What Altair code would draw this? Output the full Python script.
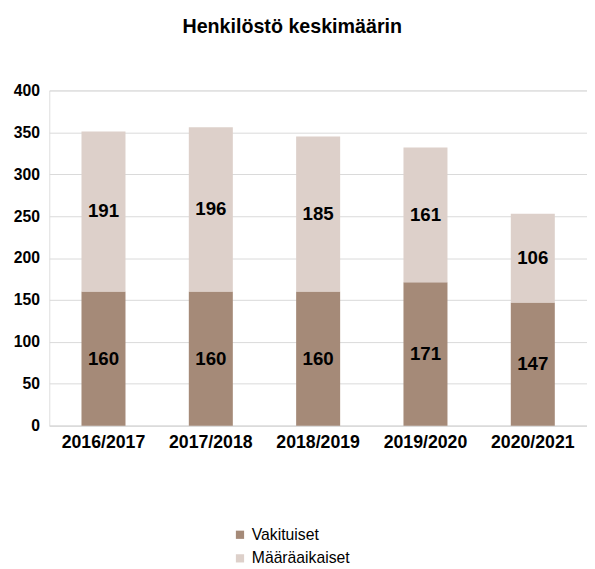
import altair as alt
import pandas as pd

years = ["2016/2017", "2017/2018", "2018/2019", "2019/2020", "2020/2021"]
vakituiset = [160, 160, 160, 171, 147]
maaraaikaiset = [191, 196, 185, 161, 106]
series = ["Vakituiset", "Määräaikaiset"]
colors = ["#A58A78", "#DDD0CA"]

rows = []
for i, y in enumerate(years):
    rows.append({"year": y, "series": series[0], "value": vakituiset[i], "order": 0,
                 "mid": vakituiset[i] / 2})
    rows.append({"year": y, "series": series[1], "value": maaraaikaiset[i], "order": 1,
                 "mid": vakituiset[i] + maaraaikaiset[i] / 2})
df = pd.DataFrame(rows)

FONT = "Liberation Sans"

x = alt.X("year:N", sort=years, title=None,
          scale=alt.Scale(paddingInner=0.59, paddingOuter=0.3),
          axis=alt.Axis(labelAngle=0, labelFont=FONT, labelFontSize=18, labelFontWeight="bold",
                        labelColor="#000000", ticks=False, domainColor="#d9d9d9",
                        labelPadding=8))

bars = alt.Chart(df).mark_bar().encode(
    x=x,
    y=alt.Y("value:Q", stack="zero", title=None,
            scale=alt.Scale(domain=[0, 400]),
            axis=alt.Axis(values=[0, 50, 100, 150, 200, 250, 300, 350, 400],
                          labelFont=FONT, labelFontSize=16, labelFontWeight="bold",
                          labelColor="#000000", ticks=False, domain=False,
                          gridColor="#d9d9d9", labelPadding=10)),
    color=alt.Color("series:N", sort=series,
                    scale=alt.Scale(domain=series, range=colors),
                    legend=alt.Legend(title=None, orient="none", legendX=186, legendY=444,
                                      direction="vertical", symbolType="square",
                                      symbolSize=70, symbolStrokeWidth=0,
                                      labelFont=FONT, labelFontSize=16, labelOffset=4,
                                      labelColor="#000000", rowPadding=8)),
    order=alt.Order("order:Q"),
)

labels = alt.Chart(df).mark_text(font=FONT, fontSize=19, fontWeight="bold",
                                 color="#000000", baseline="middle").encode(
    x=alt.X("year:N", sort=years),
    y=alt.Y("mid:Q"),
    text=alt.Text("value:Q"),
)

chart = (bars + labels).properties(
    width=547, height=341,
    padding={"left": 5, "top": 5, "right": 0, "bottom": 0},
    title=alt.TitleParams("Henkilöstö keskimäärin", font=FONT, fontSize=20,
                          fontWeight="bold", color="#000000", offset=46,
                          anchor="middle", frame="bounds", dx=-8),
).configure_view(stroke=None).configure(background="#ffffff")

chart.save("out.html", embed_options={"renderer": "svg", "actions": False})
